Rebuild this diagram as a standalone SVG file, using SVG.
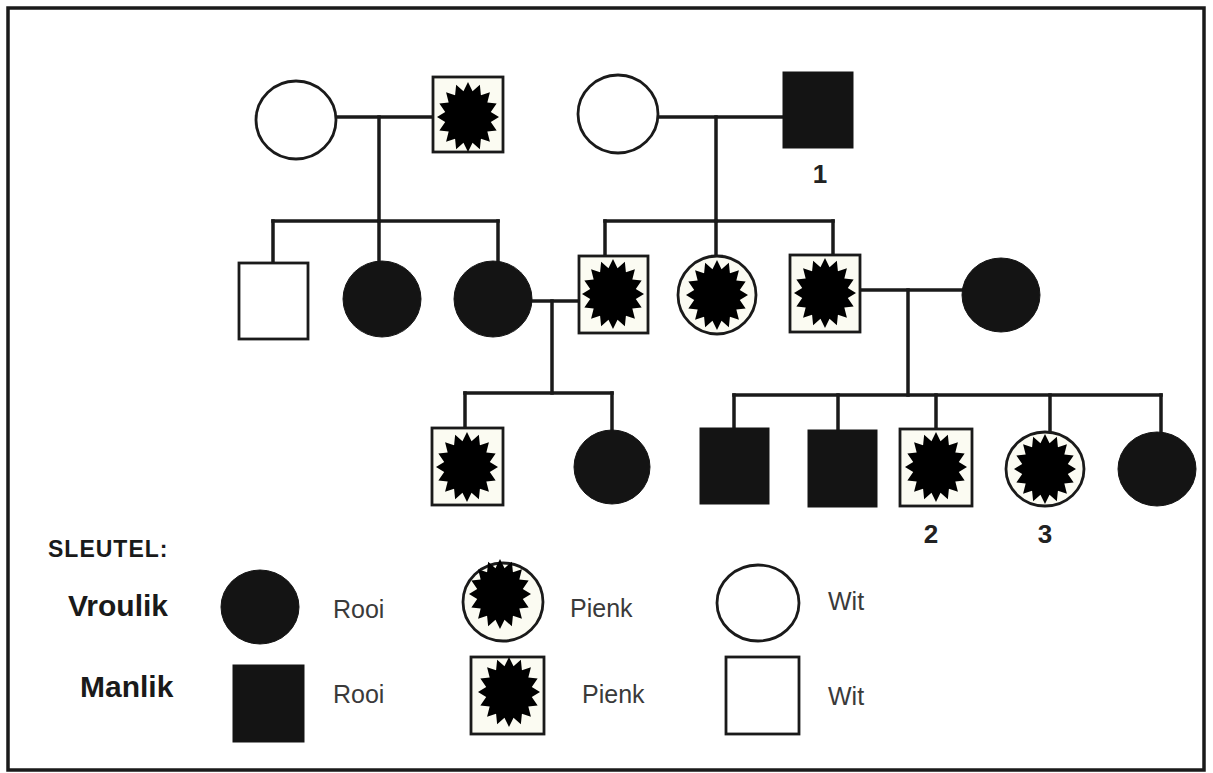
<svg xmlns="http://www.w3.org/2000/svg" xmlns:xlink="http://www.w3.org/1999/xlink" width="1213" height="773" viewBox="0 0 1213 773">
<style>
.line{fill:none;stroke:#1a1a1a;stroke-width:3.5;stroke-linecap:square}
.open{fill:#ffffff;stroke:#1a1a1a;stroke-width:2.8}
.pink{fill:#fbfbf2;stroke:#1a1a1a;stroke-width:2.8}
.red{fill:#141414;stroke:#141414;stroke-width:1}
.star{fill:#000000}
.num{font-family:"Liberation Sans",Arial,sans-serif;font-weight:bold;font-size:26px;fill:#222;text-anchor:middle}
.head{font-family:"Liberation Sans",Arial,sans-serif;font-weight:bold;fill:#1a1a1a}
.key{font-family:"Liberation Sans",Arial,sans-serif;font-size:25px;fill:#3a3a3a}
</style>
<defs>
<path id="star" d="M0,-35 L4.54,-25.75 L11.86,-32.34 L12.92,-21.83 L21.92,-24.75 L19.33,-14.58 L28.64,-13.39 L22.8,-5.12 L31,0 L22.8,5.12 L28.64,13.39 L19.33,14.58 L21.92,24.75 L12.92,21.83 L11.86,32.34 L4.54,25.75 L0,35 L-4.54,25.75 L-11.86,32.34 L-12.92,21.83 L-21.92,24.75 L-19.33,14.58 L-28.64,13.39 L-22.8,5.12 L-31,0 L-22.8,-5.12 L-28.64,-13.39 L-19.33,-14.58 L-21.92,-24.75 L-12.92,-21.83 L-11.86,-32.34 L-4.54,-25.75 Z"/>
</defs>
<rect x="0" y="0" width="1213" height="773" fill="#ffffff"/>
<rect id="frame" x="8" y="8" width="1196" height="762" fill="none" stroke="#1a1a1a" stroke-width="3.5"/>

<g id="connectors">
<path class="line" d="M336 117 H433"/>
<path class="line" d="M379 117 V221"/>
<path class="line" d="M273 221 H498"/>
<path class="line" d="M273 221 V263"/>
<path class="line" d="M379 221 V261"/>
<path class="line" d="M498 221 V261"/>
<path class="line" d="M658 117 H783"/>
<path class="line" d="M716 117 V221"/>
<path class="line" d="M605 221 H833"/>
<path class="line" d="M605 221 V256"/>
<path class="line" d="M716 221 V256"/>
<path class="line" d="M833 221 V255"/>
<path class="line" d="M532 301 H579"/>
<path class="line" d="M552 301 V393"/>
<path class="line" d="M465 393 H612"/>
<path class="line" d="M465 393 V428"/>
<path class="line" d="M612 393 V430"/>
<path class="line" d="M860 290 H962"/>
<path class="line" d="M908 290 V395"/>
<path class="line" d="M734 395 H1161"/>
<path class="line" d="M734 395 V428"/>
<path class="line" d="M838 395 V430"/>
<path class="line" d="M936 395 V429"/>
<path class="line" d="M1050 395 V432"/>
<path class="line" d="M1161 395 V432"/>
</g>

<g id="g1_f1"><ellipse class="open" cx="296" cy="120" rx="40" ry="39"/></g>
<g id="g1_m1"><rect class="pink" x="433" y="77" width="70" height="75"/><use xlink:href="#star" href="#star" class="star" x="468" y="117"/></g>
<g id="g1_f2"><ellipse class="open" cx="618" cy="114" rx="40" ry="39"/></g>
<g id="g1_m2"><rect class="red" x="783" y="72" width="70" height="76"/><text class="num" x="820" y="183">1</text></g>

<g id="g2_m1"><rect class="open" x="239" y="263" width="69" height="76"/></g>
<g id="g2_f1"><ellipse class="red" cx="382" cy="299" rx="39" ry="38"/></g>
<g id="g2_f2"><ellipse class="red" cx="493" cy="299" rx="39" ry="38"/></g>
<g id="g2_m2"><rect class="pink" x="579" y="256" width="69" height="77"/><use xlink:href="#star" href="#star" class="star" x="613" y="294"/></g>
<g id="g2_f3"><ellipse class="pink" cx="717" cy="295" rx="39" ry="39"/><use xlink:href="#star" href="#star" class="star" x="717" y="295"/></g>
<g id="g2_m3"><rect class="pink" x="790" y="255" width="70" height="77"/><use xlink:href="#star" href="#star" class="star" x="825" y="293"/></g>
<g id="g2_f4"><ellipse class="red" cx="1001" cy="295" rx="39" ry="37"/></g>

<g id="g3_m1"><rect class="pink" x="432" y="428" width="71" height="77"/><use xlink:href="#star" href="#star" class="star" x="467" y="467"/></g>
<g id="g3_f1"><ellipse class="red" cx="612" cy="467" rx="38" ry="37"/></g>
<g id="g3_m2"><rect class="red" x="700" y="428" width="69" height="76"/></g>
<g id="g3_m3"><rect class="red" x="808" y="430" width="69" height="77"/></g>
<g id="g3_m4"><rect class="pink" x="900" y="429" width="72" height="77"/><use xlink:href="#star" href="#star" class="star" x="936" y="467"/><text class="num" x="931" y="543">2</text></g>
<g id="g3_f2"><ellipse class="pink" cx="1045" cy="469" rx="39" ry="37"/><use xlink:href="#star" href="#star" class="star" x="1045" y="469"/><text class="num" x="1045" y="543">3</text></g>
<g id="g3_f3"><ellipse class="red" cx="1157" cy="469" rx="39" ry="37"/></g>

<g id="legend">
<text class="head" x="48" y="557" font-size="23" letter-spacing="1">SLEUTEL:</text>
<text class="head" x="68" y="616" font-size="30">Vroulik</text>
<text class="head" x="80" y="697" font-size="30">Manlik</text>
<g id="key_f_red"><ellipse class="red" cx="260" cy="607" rx="39" ry="37"/><text class="key" x="333" y="618">Rooi</text></g>
<g id="key_f_pink"><ellipse class="pink" cx="503" cy="602" rx="40" ry="39"/><use xlink:href="#star" href="#star" class="star" x="500" y="594"/><text class="key" x="570" y="617">Pienk</text></g>
<g id="key_f_white"><ellipse class="open" cx="758" cy="603" rx="41" ry="38"/><text class="key" x="828" y="610">Wit</text></g>
<g id="key_m_red"><rect class="red" x="233" y="665" width="71" height="77"/><text class="key" x="333" y="703">Rooi</text></g>
<g id="key_m_pink"><rect class="pink" x="471" y="657" width="73" height="77"/><use xlink:href="#star" href="#star" class="star" x="509" y="692"/><text class="key" x="582" y="703">Pienk</text></g>
<g id="key_m_white"><rect class="open" x="726" y="657" width="73" height="77"/><text class="key" x="828" y="705">Wit</text></g>
</g>
</svg>
